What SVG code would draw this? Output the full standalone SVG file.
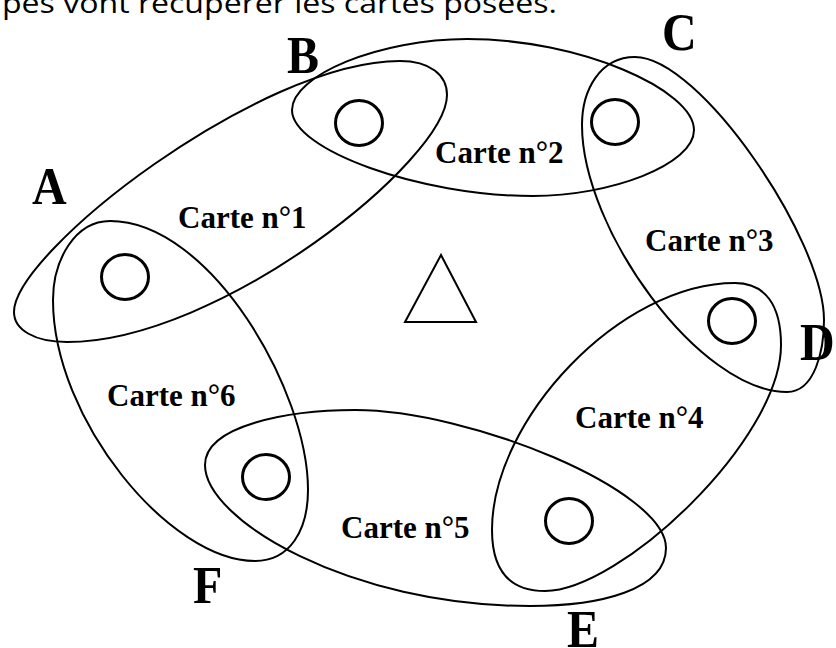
<svg xmlns="http://www.w3.org/2000/svg" width="836" height="648" viewBox="0 0 836 648">
  <style>
    .loop { fill: none; stroke: #000; stroke-width: 2; }
    .token { fill: none; stroke: #000; stroke-width: 3; }
    .label { font-family: "Liberation Serif", "Times New Roman", serif; font-weight: bold; font-size: 31px; fill: #000; }
    .corner { font-family: "Liberation Serif", "Times New Roman", serif; font-weight: bold; font-size: 48px; fill: #000; }
    .caption { font-family: "Open Sans", "Noto Sans", sans-serif; font-size: 27px; fill: #000; }
  </style>
  <rect width="836" height="648" fill="#fff"/>

  <!-- caption line, cut by the top edge -->
  <text class="caption" x="2" y="13" textLength="555" lengthAdjust="spacingAndGlyphs">pes vont récupérer les cartes posées.</text>

  <!-- six card zones -->
  <g id="carte1">
    <path class="loop" d="M14,312 C14,252 260,61 400,61 C430,61 447,75 447,95 C447,160 220,342 67,342 C35,342 14,330 14,312 Z"/>
    <text class="label" x="178" y="228">Carte n°1</text>
  </g>
  <g id="carte2">
    <path class="loop" d="M292,110 C292,75 380,39 467,39 C580,39 694,90 694,130 C694,165 610,196 533,196 C420,196 292,150 292,110 Z"/>
    <text class="label" x="435" y="163">Carte n°2</text>
  </g>
  <g id="carte3">
    <path class="loop" d="M635,57 C600,57 582,90 582,125 C582,230 700,392 787,392 C815,392 824,350 824,320 C824,240 700,57 635,57 Z"/>
    <text class="label" x="645" y="251">Carte n°3</text>
  </g>
  <g id="carte4">
    <path class="loop" d="M735,283 C765,283 781,305 781,345 C781,440 620,591 545,591 C505,591 492,565 492,530 C492,420 620,283 735,283 Z"/>
    <text class="label" x="575" y="428">Carte n°4</text>
  </g>
  <g id="carte5">
    <path class="loop" d="M205,465 C205,425 290,410 355,410 C470,410 666,490 666,548 C666,590 600,606 530,606 C350,606 205,520 205,465 Z"/>
    <text class="label" x="341" y="538">Carte n°5</text>
  </g>
  <g id="carte6">
    <path class="loop" d="M110,221 C75,221 53,260 53,300 C53,420 170,561 255,561 C290,561 308,530 308,490 C308,390 210,221 110,221 Z"/>
    <text class="label" x="107" y="406">Carte n°6</text>
  </g>

  <!-- tokens on the overlaps -->
  <g id="tokens">
    <ellipse class="token" cx="125" cy="277" rx="23.5" ry="22.5"/>
    <ellipse class="token" cx="359" cy="123" rx="23.5" ry="22.5"/>
    <ellipse class="token" cx="615" cy="122" rx="23.5" ry="22.5"/>
    <ellipse class="token" cx="732" cy="321" rx="23.5" ry="22.5"/>
    <ellipse class="token" cx="569" cy="521" rx="23.5" ry="22.5"/>
    <ellipse class="token" cx="266" cy="477" rx="23.5" ry="22.5"/>
  </g>

  <!-- centre marker -->
  <polygon id="centre" points="441,255 476,322 405,322" fill="none" stroke="#000" stroke-width="2"/>

  <!-- corner letters -->
  <g id="corners">
    <text class="corner" transform="translate(32,204) scale(1,1.1)">A</text>
    <text class="corner" transform="translate(287,73) scale(1,1.1)">B</text>
    <text class="corner" transform="translate(662,50) scale(1,1.1)">C</text>
    <text class="corner" transform="translate(800,360) scale(1,1.1)">D</text>
    <text class="corner" transform="translate(567,647) scale(1,1.1)">E</text>
    <text class="corner" transform="translate(193,603) scale(1,1.1)">F</text>
  </g>
</svg>
